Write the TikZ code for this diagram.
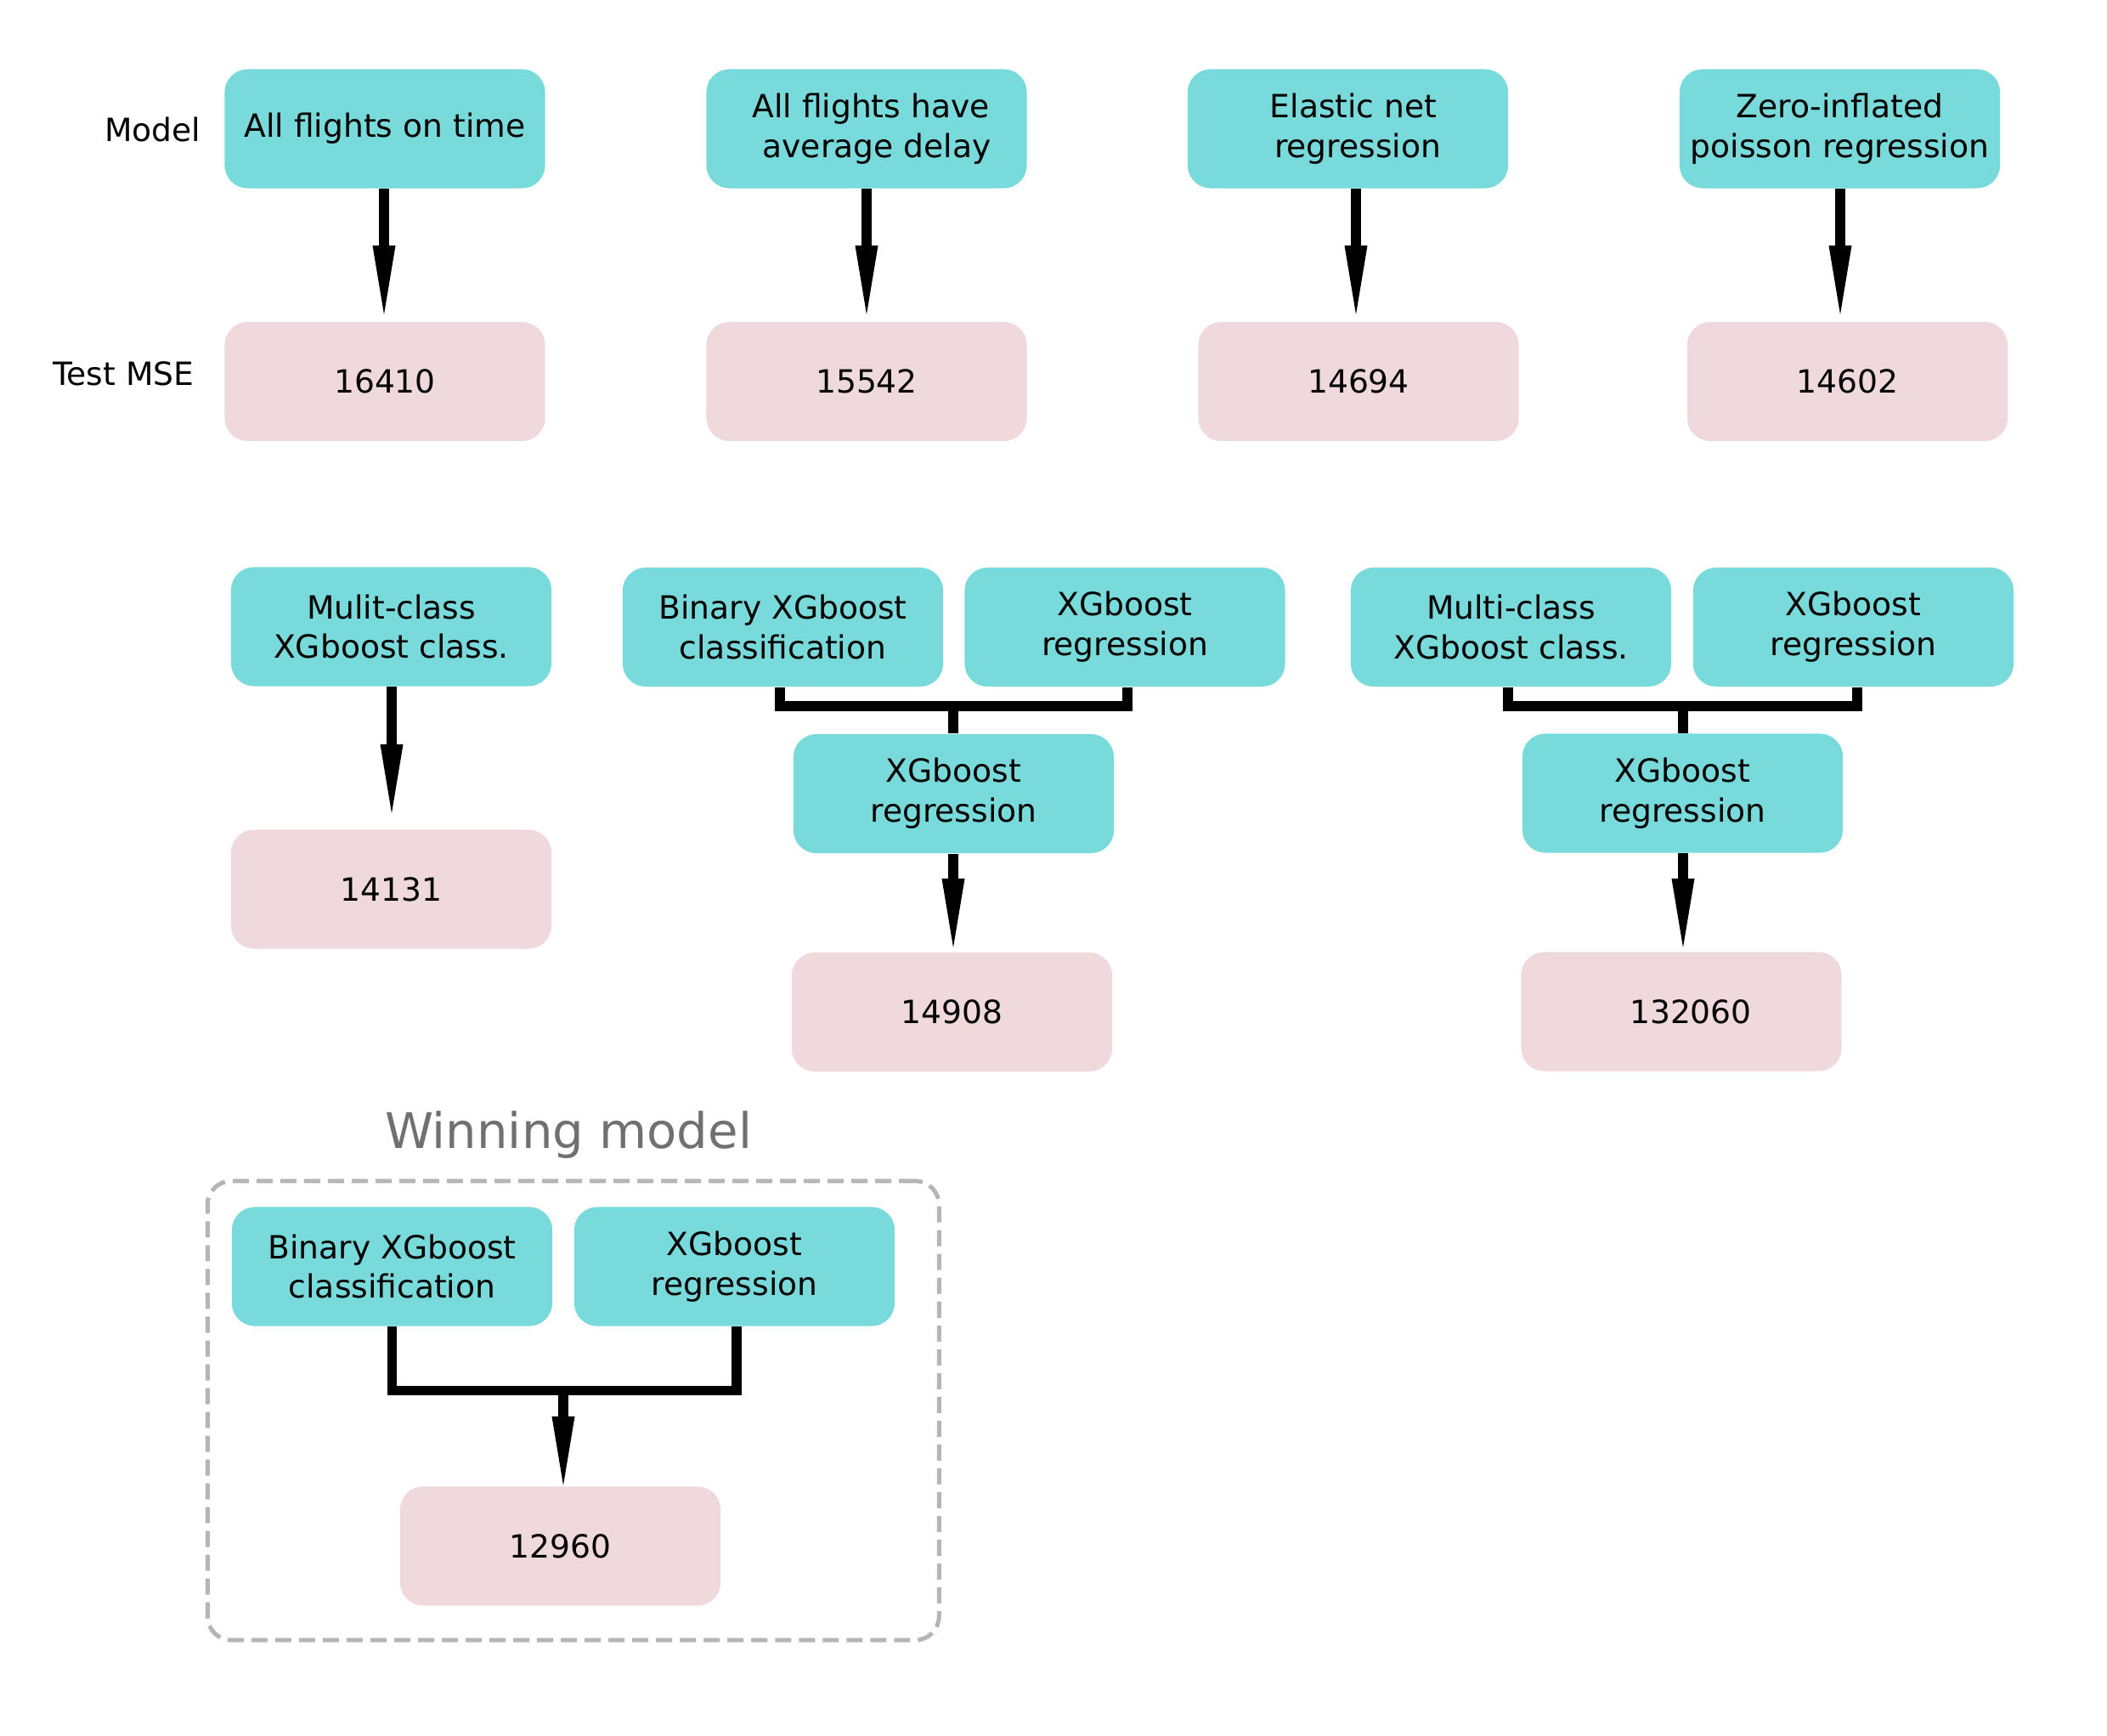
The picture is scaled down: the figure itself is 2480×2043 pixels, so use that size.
\documentclass[tikz,border=0pt]{standalone}
\usepackage{fontspec}
\setmainfont{DejaVu Sans}
\usetikzlibrary{arrows.meta}
\definecolor{boxcyan}{RGB}{120,218,218}
\definecolor{boxpink}{RGB}{240,217,220}
\definecolor{dashgray}{RGB}{181,181,181}
\definecolor{titlegray}{RGB}{112,112,112}
\newcommand\boxfont{\fontsize{10.7}{13.3}\selectfont}
\newcommand\wintitlefont{\fontsize{16.4}{19}\selectfont}
\begin{document}
\begin{tikzpicture}[x=0.01cm,y=-0.01cm,
  model/.style={fill=boxcyan, rounded corners=0.27cm, minimum width=3.77cm,
    minimum height=1.40cm, inner sep=0pt, align=center, font=\boxfont},
  result/.style={model, fill=boxpink},
  rowlbl/.style={inner sep=0pt, font=\boxfont, anchor=east},
  conn/.style={line width=0.117cm, line join=miter, line cap=butt},
  arr/.style={conn, -{Triangle[length=0.81cm,width=0.27cm,line width=0pt]}},
  dashbox/.style={draw=dashgray, line width=0.05cm, dash pattern=on 0.19cm off 0.09cm,
    rounded corners=0.28cm, inner sep=0pt}
]
\useasboundingbox (0,0) rectangle (2480,2043);

% row labels
\node[rowlbl] (lmodel) at (237,152) {Model};
\node[rowlbl] (lmse) at (229,440) {Test MSE};

% top row: models
\node[model] (m1) at (453,151.5) {\raisebox{-0.035cm}{All flights on time}};
\node[model] (m2) at (1020,151.5) {\hspace*{0.10cm}All flights have\\\hspace*{0.24cm}average delay};
\node[model] (m3) at (1586.5,151.5) {\hspace*{0.13cm}Elastic net\\\hspace*{0.23cm}regression};
\node[model] (m4) at (2165.5,151.5) {Zero-inflated\\poisson regression};

% top row: results
\node[result] (r1) at (453,449) {16410};
\node[result] (r2) at (1020,449) {15542};
\node[result] (r3) at (1599,449) {14694};
\node[result] (r4) at (2174.5,449) {14602};

\coordinate (t1) at (452,370);
\coordinate (t2) at (1020,370);
\coordinate (t3) at (1596,370);
\coordinate (t4) at (2166,370);
\draw[arr] (m1.south -| t1) -- (t1);
\draw[arr] (m2.south -| t2) -- (t2);
\draw[arr] (m3.south -| t3) -- (t3);
\draw[arr] (m4.south -| t4) -- (t4);

% middle row: multi-class alone
\node[model] (c0) at (460.5,737.5) {Mulit-class\\XGboost class.};
\node[result] (r5) at (460.5,1046.5) {14131};
\coordinate (t5) at (461,957);
\draw[arr] (c0.south -| t5) -- (t5);

% middle group: binary + regression
\node[model] (b1) at (921.5,738) {Binary XGboost\\classification};
\node[model] (x1) at (1324,738) {XGboost\\regression};
\node[model] (mid1) at (1122.5,934) {XGboost\\regression};
\node[result] (r6) at (1120.5,1191) {14908};
\coordinate (j1) at (1122,831);
\draw[conn] ([xshift=-0.035cm]b1.south) |- (j1) -| ([xshift=0.03cm]x1.south);
\draw[conn] (j1) -- (mid1.north -| j1);
\coordinate (t6) at (1122,1115);
\draw[arr] (mid1.south -| t6) -- (t6);

% right group: multi-class + regression
\node[model] (c1) at (1778.5,738) {Multi-class\\XGboost class.};
\node[model] (x2) at (2181.5,738) {XGboost\\regression};
\node[model] (mid2) at (1980.5,933.5) {XGboost\\regression};
\node[result] (r7) at (1979,1190.5) {\hspace*{0.22cm}132060};
\coordinate (j2) at (1981,831);
\draw[conn] ([xshift=-0.035cm]c1.south) |- (j2) -| ([xshift=0.045cm]x2.south);
\draw[conn] (j2) -- (mid2.north -| j2);
\coordinate (t7) at (1981,1115);
\draw[arr] (mid2.south -| t7) -- (t7);

% winning model
\node[font=\wintitlefont, text=titlegray, anchor=base, inner sep=0pt] (wt) at (669,1352) {Winning model};
\node[dashbox, minimum width=8.605cm, minimum height=5.40cm] (wbox) at (674.75,1660) {};
\node[model] (w1) at (461.5,1490.5) {Binary XGboost\\classification};
\node[model] (w2) at (864.5,1490.5) {XGboost\\regression};
\node[result] (r8) at (659.5,1819.5) {12960};
\coordinate (j3) at (663,1636.5);
\draw[conn] (w1.south) |- (j3) -| ([xshift=0.025cm]w2.south);
\coordinate (t8) at (663,1748);
\draw[arr] (j3) -- (t8);
\end{tikzpicture}
\end{document}
